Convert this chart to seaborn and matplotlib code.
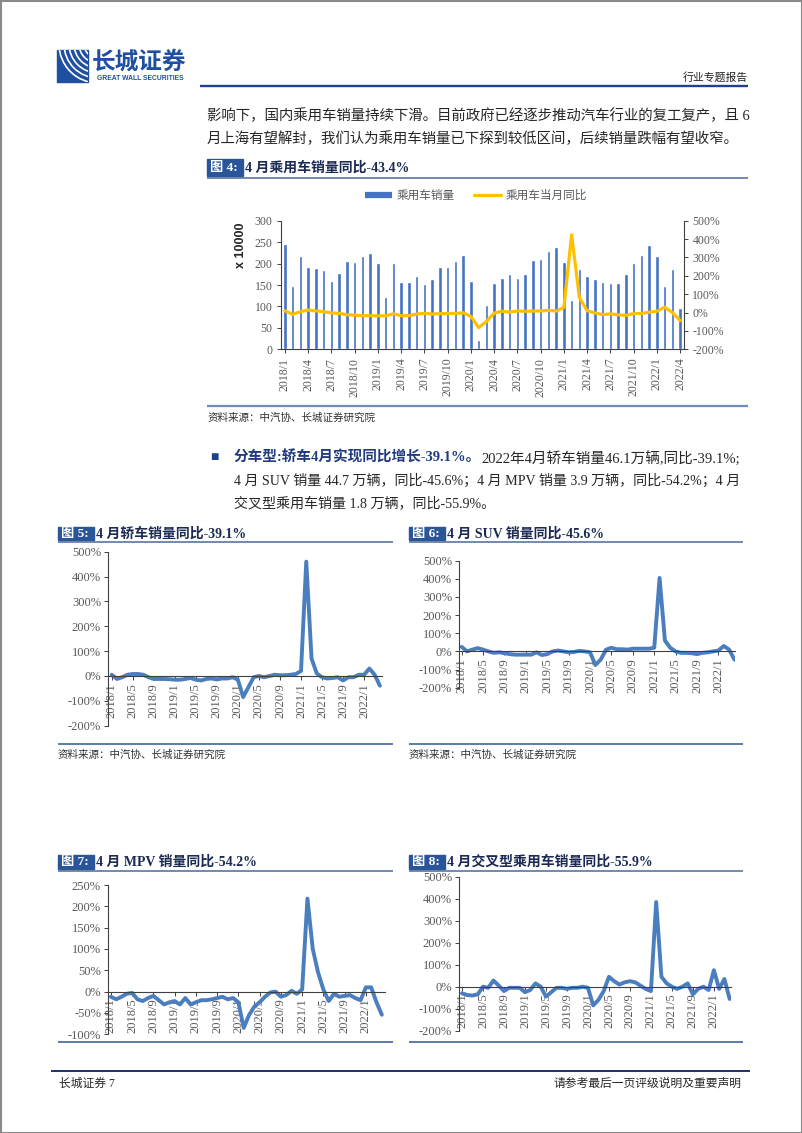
import numpy as np
import pandas as pd
import matplotlib.pyplot as plt
import seaborn as sns
from matplotlib.lines import Line2D
from matplotlib.patches import Rectangle, Arc

# ---- data ----
months = [f"{y}/{m}" for y in range(2018, 2023) for m in range(1, 13)][:52]

# 乘用车销量, x 10000
sales = [245, 147, 217, 191, 189, 186, 159, 179, 206, 204, 218, 224,
         202, 121, 202, 158, 156, 172, 152, 165, 193, 193, 206, 221,
         160, 22, 103, 154, 167, 176, 166, 176, 208, 211, 230, 238,
         204, 115, 187, 170, 164, 157, 155, 155, 175, 201, 219, 243,
         218, 148, 187, 96]
# 乘用车当月同比, %
yoy_total = [10, -10, 5, 14, 9, 5, -2, -4, -12, -14, -17, -17,
             -18, -18, -7, -17, -17, -8, -4, -8, -6, -5, -5, -1,
             -21, -82, -49, -3, 7, 2, 9, 7, 8, 9, 12, 8,
             28, 423, 82, 10, -2, -11, -7, -12, -16, -5, -5, 2,
             7, 29, 0, -43.4]
# 轿车
yoy_sedan = [5, -12, -5, 5, 8, 8, 5, -5, -12, -12, -12, -13,
             -15, -15, -12, -8, -15, -18, -12, -10, -14, -10, -10, -5,
             -15, -85, -45, -5, 0, -5, 0, 5, 3, 3, 5, 8,
             20, 460, 70, 10, -5, -10, -8, -5, -18, -5, -5, 5,
             5, 30, 5, -39.1]
# SUV
yoy_suv = [25, 0, 10, 18, 10, 0, -8, -5, -10, -15, -18, -18,
           -18, -18, -5, -20, -15, 0, 5, 0, -5, -3, 3, 0,
           -5, -75, -45, 10, 20, 12, 12, 10, 15, 15, 15, 15,
           20, 405, 60, 20, 0, -8, -8, -10, -15, -8, -5, 0,
           5, 30, 10, -45.6]
# MPV
yoy_mpv = [-12, -18, -12, -5, -3, -18, -22, -15, -10, -20, -30, -25,
           -22, -30, -15, -30, -25, -20, -20, -18, -15, -12, -18, -15,
           -25, -85, -55, -35, -25, -12, -2, 0, -12, -8, 2, -5,
           5, 218, 100, 45, 5, -22, -5, -12, -10, -8, -15, -20,
           10, 10, -25, -54.2]
# 交叉型乘用车
yoy_cross = [-30, -38, -40, -35, 0, -5, 28, 5, -20, -5, -5, -5,
             -25, -15, 15, 0, -45, -25, -5, -5, -10, -5, -5, 0,
             -5, -85, -60, -20, 45, 25, 10, 20, 25, 20, 5, -10,
             -20, 385, 45, 15, 0, -10, 0, 15, -35, -10, 0, -15,
             75, -10, 35, -55.9]

W, H = 802, 1133
BLUE_BAR = "#4472C4"
YELLOW = "#FFC000"
LINE_BLUE = "#4A7EBF"
GREY = "#595959"
NAVY = "#1F3F8F"

sns.set_style("white")
plt.rcParams["font.family"] = ["Liberation Serif", "Noto Sans CJK SC"]

fig = plt.figure(figsize=(W / 100, H / 100), dpi=100)
page = fig.add_axes([0, 0, 1, 1], zorder=0)
page.set_xlim(0, W)
page.set_ylim(H, 0)
page.axis("off")


def px_axes(l, t, r, b):
    a = fig.add_axes([l / W, 1 - b / H, (r - l) / W, (b - t) / H], zorder=2)
    a.set_facecolor("none")
    return a


def hline(x0, x1, y, color, lw):
    page.plot([x0, x1], [y, y], color=color, lw=lw, solid_capstyle="butt")


def fig_header(x0, x1, ytop, ybot, num, title):
    yc = (ytop + ybot) / 2
    page.add_patch(Rectangle((x0, ytop), 36, ybot - ytop, color="#2A5699"))
    page.text(x0 + 3, yc, f"图 {num}:", color="white", fontsize=9.5,
              fontweight="bold", va="center")
    page.text(x0 + 38, yc, title, color="#1B2A55", fontsize=10,
              fontweight="bold", va="center")
    hline(x0, x1, ybot + 1.5, "#4A6A9A", 1.1)


def source(x, y):
    page.text(x, y, "资料来源：中汽协、长城证券研究院", fontsize=7.6,
              color="#333333", style="italic", va="center")


# ---- page furniture ----
page.add_patch(Rectangle((0.5, 0.5), W - 1, H - 1, fill=False,
                         edgecolor="#8a8a8a", lw=1.5))
logo = Rectangle((57, 50), 31, 32, color="#1F4FA0")
page.add_patch(logo)
for r in [14, 19, 24, 29, 34, 39]:
    arc = Arc((98, 44), 2 * r, 2 * r, theta1=90, theta2=180,
              color="white", lw=1.2)
    page.add_patch(arc)
    arc.set_clip_path(logo)
page.text(92, 62, "长城证券", fontsize=17, fontweight="bold",
          color="#1F4FA0", va="center")
page.text(97, 79, "GREAT WALL SECURITIES", fontsize=4.9, fontweight="bold",
          color="#1F4FA0", va="center", family="Liberation Sans")
page.text(748, 77, "行业专题报告", fontsize=7.8, color="#222222",
          ha="right", va="center")
hline(200, 748, 86, NAVY, 1.7)

page.text(207, 116, "影响下，国内乘用车销量持续下滑。目前政府已经逐步推动汽车行业的复工复产，且 6",
          fontsize=10.4, va="center")
page.text(207, 139, "月上海有望解封，我们认为乘用车销量已下探到较低区间，后续销量跌幅有望收窄。",
          fontsize=10.4, va="center")

fig_header(207, 748, 159, 176, 4, "4 月乘用车销量同比-43.4%")
hline(207, 748, 405.5, "#6F8DB8", 1.6)
source(208, 418)

page.text(210, 458, "■", fontsize=10, color=NAVY, va="center")
t1 = page.text(234, 458, "分车型:轿车4月实现同比增长-39.1%。", fontsize=10.5,
               fontweight="bold", color="#1F3A80", va="center")
page.annotate("2022年4月轿车销量46.1万辆,同比-39.1%;", xy=(1, 0.5),
              xycoords=t1, va="center", ha="left", fontsize=10.5)
page.text(234, 481, "4 月 SUV 销量 44.7 万辆，同比-45.6%；4 月 MPV 销量 3.9 万辆，同比-54.2%；4 月",
          fontsize=10.1, va="center")
page.text(234, 503, "交叉型乘用车销量 1.8 万辆，同比-55.9%。", fontsize=10.1,
          va="center")

fig_header(58, 393, 527, 540, 5, "4 月轿车销量同比-39.1%")
fig_header(409, 743, 527, 540, 6, "4 月 SUV 销量同比-45.6%")
hline(58, 393, 744, "#4F6FA8", 1.3)
hline(409, 743, 744, "#4F6FA8", 1.3)
source(58, 755)
source(409, 755)

fig_header(58, 393, 855, 869, 7, "4 月 MPV 销量同比-54.2%")
fig_header(409, 743, 855, 869, 8, "4 月交叉型乘用车销量同比-55.9%")
hline(58, 393, 1042, "#4F6FA8", 1.3)
hline(409, 743, 1042, "#4F6FA8", 1.3)

hline(51, 750, 1071, "#1F2F6F", 1.4)
page.text(59, 1084, "长城证券 7", fontsize=8.5, va="center")
page.text(742, 1084, "请参考最后一页评级说明及重要声明", fontsize=8.5,
          ha="right", va="center")

# ---- figure 4: bars + yoy line ----
df = pd.DataFrame({"month": months, "sales": sales, "yoy": yoy_total,
                   "idx": np.arange(len(months))})
ax = px_axes(281, 220.7, 684, 349.3)
sns.barplot(data=df, x="month", y="sales", color=BLUE_BAR, width=0.45,
            saturation=1, ax=ax)
ax2 = ax.twinx()
ax2.set_facecolor("none")
sns.lineplot(data=df, x="idx", y="yoy", color=YELLOW, lw=2.3, ax=ax2)
ax.set_xlim(-0.5, 51.5)
ax.set_ylim(0, 300)
ax2.set_ylim(-200, 500)
ax.set_xlabel("")
ax.set_ylabel("")
ax2.set_xlabel("")
ax2.set_ylabel("")
ax.set_xticks(range(0, 52, 3))
ax.set_xticklabels(months[::3], rotation=90, fontsize=8.5, color=GREY)
ax.set_yticks(range(0, 301, 50))
ax.set_yticklabels([str(v) for v in range(0, 301, 50)], fontsize=8.5,
                   color=GREY)
ax2.set_yticks(range(-200, 501, 100))
ax2.set_yticklabels([f"{v}%" for v in range(-200, 501, 100)], fontsize=8.5,
                    color=GREY)
for a in (ax, ax2):
    a.spines["top"].set_visible(False)
ax.spines["right"].set_visible(False)
ax2.spines["left"].set_visible(False)
ax2.spines["bottom"].set_visible(False)
for s in ("left", "bottom"):
    ax.spines[s].set_color("#404040")
    ax.spines[s].set_linewidth(0.8)
ax2.spines["right"].set_color("#404040")
ax2.spines["right"].set_linewidth(0.8)
ax.tick_params(axis="both", direction="out", length=3, width=0.7,
               color="#404040", pad=3, left=True, bottom=True)
ax2.tick_params(axis="y", direction="out", length=3, width=0.7,
                color="#404040", pad=3, right=True)
fig.text(241 / W, 1 - 245 / H, "x 10000", rotation=90, fontsize=9,
         fontweight="bold", family="Liberation Sans", ha="center",
         va="center")
handles = [Line2D([], [], color=BLUE_BAR, lw=4.5, solid_capstyle="butt"),
           Line2D([], [], color=YELLOW, lw=2.3)]
fig.legend(handles, ["乘用车销量", "乘用车当月同比"], loc="center",
           bbox_to_anchor=(476 / W, 1 - 196 / H), ncol=2, frameon=False,
           fontsize=8.4, labelcolor=GREY, handlelength=2.3,
           columnspacing=1.6, handletextpad=0.4)


# ---- figures 5-8: yoy lines ----
def yoy_panel(box, values, ylim, step, xlim):
    a = px_axes(*box)
    sns.lineplot(x=np.arange(len(values)), y=values, color=LINE_BLUE,
                 lw=2.8, ax=a)
    a.lines[0].set_solid_joinstyle("round")
    a.lines[0].set_solid_capstyle("round")
    a.set_xlim(*xlim)
    a.set_ylim(*ylim)
    a.set_xlabel("")
    a.set_ylabel("")
    a.spines["top"].set_visible(False)
    a.spines["right"].set_visible(False)
    a.spines["bottom"].set_position(("data", 0))
    for s in ("left", "bottom"):
        a.spines[s].set_color("#404040")
        a.spines[s].set_linewidth(0.8)
    a.set_xticks(range(0, 52, 4))
    a.set_xticklabels(months[::4], rotation=90, fontsize=9, color=GREY,
                      va="top")
    yt = np.arange(ylim[0], ylim[1] + 1, step)
    a.set_yticks(yt)
    a.set_yticklabels([f"{v:.0f}%" for v in yt], fontsize=9, color=GREY)
    a.tick_params(axis="both", direction="out", length=3, width=0.7,
                  color="#404040", pad=2, left=True, bottom=True)
    return a


yoy_panel((108, 551.7, 382, 725.7), yoy_sedan, (-200, 500), 100, (-0.7, 51.4))
yoy_panel((459, 560.7, 735, 687.7), yoy_suv, (-200, 500), 100, (-0.5, 51.1))
yoy_panel((108, 885, 385, 1034.3), yoy_mpv, (-100, 250), 50, (-0.55, 51.6))
yoy_panel((459, 876.7, 730.7, 1030.7), yoy_cross, (-200, 500), 100, (-0.57, 51.2))

fig.savefig("out.png", dpi=100)
